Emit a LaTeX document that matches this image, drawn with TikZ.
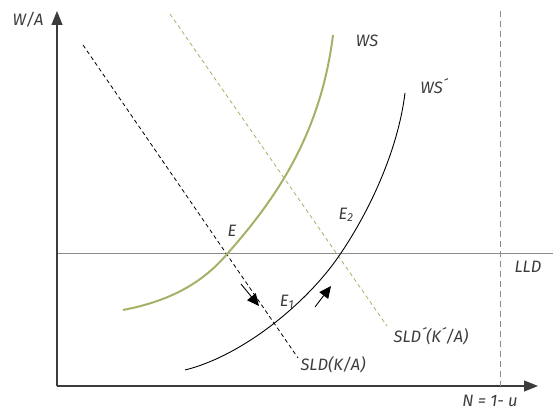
\documentclass[tikz,border=0pt]{standalone}
\usepackage{fontspec}
\setmainfont{Fira Sans}
\usetikzlibrary{arrows.meta}
\definecolor{olive}{RGB}{168,176,104}
\definecolor{axisgray}{RGB}{60,60,60}
\definecolor{linegray}{RGB}{140,140,140}
\definecolor{txt}{RGB}{60,60,60}
\tikzset{
  lbl/.style={font=\fontsize{16.5}{19}\selectfont\itshape, text=txt, inner sep=1pt},
  axisline/.style={draw=axisgray, line width=1.1pt, -{Triangle[length=14pt,width=11pt]}},
  sldblack/.style={draw=black, line width=0.8pt, dash pattern=on 4pt off 3pt},
  sldgreen/.style={draw=olive, line width=0.8pt, dash pattern=on 4pt off 3pt},
  wsgreen/.style={draw=olive, line width=2pt},
  wsblack/.style={draw=black, line width=0.9pt},
  movearrow/.style={draw=black, line width=0.9pt, -{Triangle[length=12pt,width=11pt]}}
}
\begin{document}
\begin{tikzpicture}[x=1pt,y=-1pt]
\useasboundingbox (0,0) rectangle (554,411);
% axes
\coordinate (O) at (57,386);
\coordinate (ytip) at (57,11);
\coordinate (xtip) at (538,386);
\draw[axisline] (O) -- (ytip);
\draw[axisline] (O) -- (xtip);
% LLD lines
\coordinate (lldtop) at (500,11);
\coordinate (lldbot) at (500,386);
\draw[draw=linegray, line width=0.8pt, dash pattern=on 6pt off 4pt] (lldtop) -- (lldbot);
\coordinate (hl) at (58,253);
\coordinate (hr) at (553,253);
\draw[draw=linegray, line width=0.9pt] (hl) -- (hr);
% SLD lines
\coordinate (s1a) at (83,45);
\coordinate (s1b) at (298,358);
\draw[sldblack] (s1a) -- (s1b);
\coordinate (s2a) at (170,14);
\coordinate (s2b) at (387,326);
\draw[sldgreen] (s2a) -- (s2b);
% WS curves
\coordinate (ws0) at (123,310);
\coordinate (E) at (228,253);
\coordinate (ws1) at (333,35);
\draw[wsgreen] (ws0) .. controls (175,300) and (205,280) .. (E) .. controls (270,205) and (320,140) .. (ws1);
\coordinate (wp0) at (185,370);
\coordinate (E2) at (341,253);
\coordinate (wp1) at (405,93);
\draw[wsblack] (wp0) .. controls (245,355) and (310,300) .. (E2) .. controls (370,210) and (398,150) .. (wp1);
% movement arrows
\coordinate (a1s) at (241,284);
\coordinate (a1e) at (259,306);
\draw[movearrow] (a1s) -- (a1e);
\coordinate (a2s) at (315,307);
\coordinate (a2e) at (331,286);
\draw[movearrow] (a2s) -- (a2e);
% labels
\node[lbl] (tWA) at (28,20) {W/A};
\node[lbl] (tWS) at (367,41) {WS};
\node[lbl] (tWSp) at (434,86) {WS´};
\node[lbl] (tE) at (232,231) {E};
\node[lbl] (tE2) at (346,215) {E\textsubscript{2}};
\node[lbl] (tE1) at (287,302) {E\textsubscript{1}};
\node[lbl] (tLLD) at (528,267) {LLD};
\node[lbl] (tSLDp) at (431,336) {SLD´(K´/A)};
\node[lbl] (tSLD) at (333,365) {SLD(K/A)};
\node[lbl] (tN) at (490,401) {N = 1- u};
\end{tikzpicture}
\end{document}
